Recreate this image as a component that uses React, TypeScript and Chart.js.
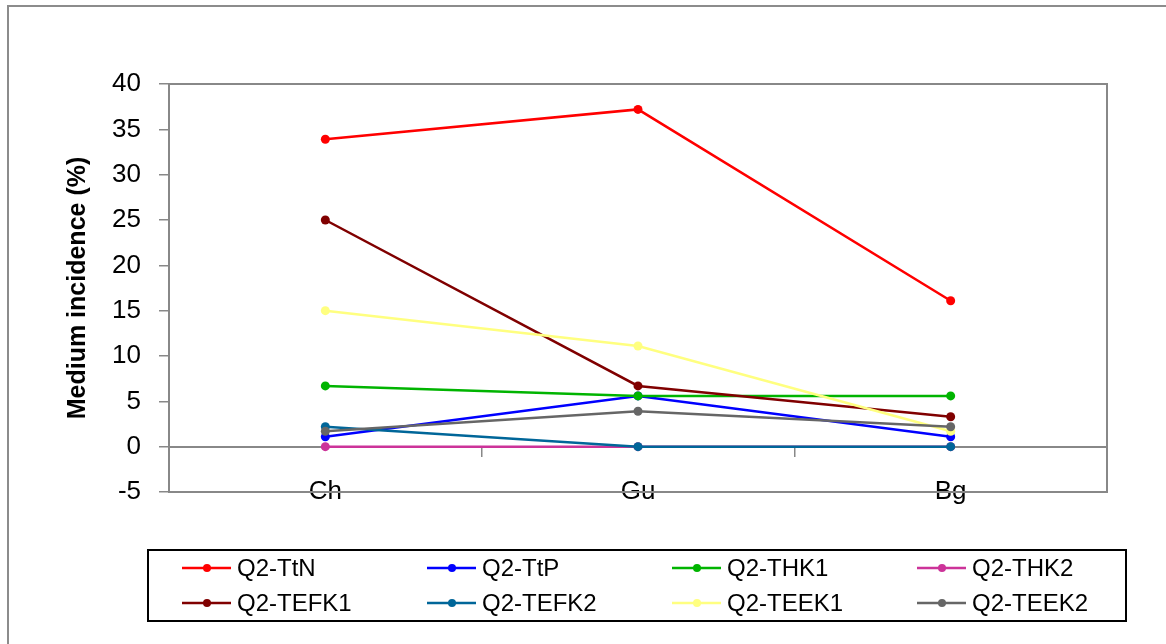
import React, { useEffect, useRef } from 'react';
import { Chart, registerables } from 'chart.js';

Chart.register(...registerables);

const categories = ['Ch', 'Gu', 'Bg'];
const seriesNames = ['Q2-TtN', 'Q2-TtP', 'Q2-THK1', 'Q2-THK2', 'Q2-TEFK1', 'Q2-TEFK2', 'Q2-TEEK1', 'Q2-TEEK2'];
const TtN = [33.9, 37.2, 16.1];
const TtP = [1.1, 5.6, 1.1];
const THK1 = [6.7, 5.6, 5.6];
const THK2 = [0, 0, 0];
const TEFK1 = [25.0, 6.7, 3.3];
const TEFK2 = [2.2, 0, 0];
const TEEK1 = [15.0, 11.1, 1.7];
const TEEK2 = [1.7, 3.9, 2.2];
const seriesValues = [TtN, TtP, THK1, THK2, TEFK1, TEFK2, TEEK1, TEEK2];
const seriesColors = ['#FF0000', '#0000FF', '#00B400', '#CC3399', '#800000', '#006699', '#FFFF80', '#666666'];
const yTicks = { min: -5, max: 40, step: 5 };

const REGULAR = '"Liberation Sans", Arial, sans-serif';

const plotBorder = {
  id: 'plotBorder',
  beforeDatasetsDraw(chart: any) {
    const { ctx, chartArea } = chart;
    ctx.save();
    ctx.strokeStyle = '#888888';
    ctx.lineWidth = 2;
    ctx.strokeRect(chartArea.left, chartArea.top, chartArea.right - chartArea.left, chartArea.bottom - chartArea.top);
    ctx.restore();
  },
};

const boxLegend = {
  id: 'boxLegend',
  afterDraw(chart: any) {
    const { ctx } = chart;
    const ds = chart.data.datasets;
    ctx.save();
    ctx.strokeStyle = '#000000';
    ctx.lineWidth = 2;
    ctx.strokeRect(148, 550, 978, 71);
    ctx.font = '24px ' + REGULAR;
    ctx.textBaseline = 'middle';
    ctx.textAlign = 'left';
    ds.forEach((d: any, i: number) => {
      const col = i % 4;
      const row = Math.floor(i / 4);
      const tx = 237 + 245 * col;
      const cy = row === 0 ? 568 : 603;
      ctx.strokeStyle = d.borderColor;
      ctx.lineWidth = 2.5;
      ctx.beginPath();
      ctx.moveTo(tx - 55, cy);
      ctx.lineTo(tx - 6, cy);
      ctx.stroke();
      ctx.fillStyle = d.borderColor;
      ctx.beginPath();
      ctx.arc(tx - 30, cy, 4, 0, Math.PI * 2);
      ctx.fill();
      ctx.fillStyle = '#000000';
      ctx.fillText(d.label, tx, cy + 1);
    });
    ctx.restore();
  },
};

export default function App() {
  const ref = useRef<HTMLCanvasElement>(null);
  useEffect(() => {
    document.body.style.margin = '0';
    const n = seriesNames.length;
    const chart = new Chart(ref.current as HTMLCanvasElement, {
      type: 'line',
      data: {
        labels: categories,
        datasets: seriesNames.map((name, i) => ({
          label: name,
          data: seriesValues[i],
          borderColor: seriesColors[i],
          backgroundColor: seriesColors[i],
          pointBackgroundColor: seriesColors[i],
          pointBorderWidth: 0,
          pointRadius: 4.5,
          borderWidth: 2.5,
          tension: 0,
          order: n - i,
        })),
      },
      options: {
        responsive: false,
        animation: false,
        devicePixelRatio: 1,
        layout: { padding: { top: 84, right: 59, left: 0, bottom: 0 } },
        plugins: { legend: { display: false }, tooltip: { enabled: false } },
        scales: {
          x: {
            type: 'category',
            position: 'bottom',
            offset: true,
            grid: { display: false, drawTicks: false },
            border: { display: false },
            ticks: { color: '#000', mirror: true, padding: -15, font: { family: REGULAR, size: 26 } },
            afterFit(scale: any) { scale.height = 152; },
          },
          x2: {
            type: 'category',
            position: { y: 0 } as any,
            offset: true,
            grid: { display: true, offset: true, drawOnChartArea: false, drawTicks: true, tickLength: 9, color: '#888888', lineWidth: 1.5 },
            border: { display: true, color: '#888888', width: 2 },
            ticks: { display: false },
          },
          y: {
            type: 'linear',
            position: 'left',
            min: yTicks.min,
            max: yTicks.max,
            ticks: { stepSize: yTicks.step, color: '#000', padding: 18, font: { family: REGULAR, size: 26 } },
            grid: { display: true, drawOnChartArea: false, drawTicks: true, tickLength: 10, color: '#888888', lineWidth: 1.5 },
            border: { display: false },
            title: {
              display: true,
              text: 'Medium incidence (%)',
              color: '#000',
              font: { family: REGULAR, size: 25, weight: 'bold' },
              padding: { top: 63, bottom: 0 },
            },
            afterFit(scale: any) { scale.width = 169; },
          },
        },
      },
      plugins: [plotBorder, boxLegend],
    });
    return () => chart.destroy();
  }, []);
  return (
    <div style={{ position: 'relative', width: 1166, height: 644, overflow: 'hidden', background: '#ffffff' }}>
      <div style={{ position: 'absolute', left: 7, top: 5, width: 1300, height: 800, border: '2px solid #8c8c8c' }} />
      <canvas ref={ref} width={1166} height={644} style={{ position: 'absolute', left: 0, top: 0 }} />
    </div>
  );
}
